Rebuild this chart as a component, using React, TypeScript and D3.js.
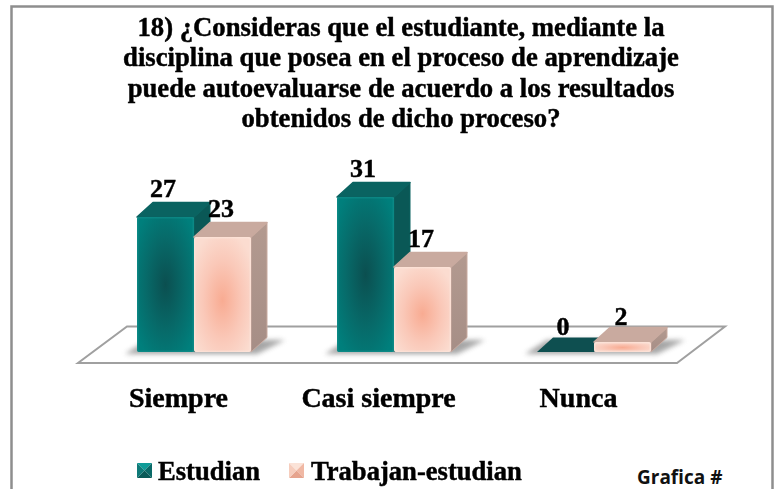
import React from "react";
import * as d3 from "d3";

const categories = ["Siempre", "Casi siempre", "Nunca"];
const seriesNames = ["Estudian", "Trabajan-estudian"];
const estudian = [27, 31, 0];
const trabajan = [23, 17, 2];
const titleLines = [
  "18) ¿Consideras que el estudiante, mediante la",
  "disciplina que posea en el proceso de aprendizaje",
  "puede autoevaluarse de acuerdo a los resultados",
  "obtenidos de dicho proceso?",
];

const SERIF = "'Liberation Serif', serif";
const x0 = d3.scaleBand<string>().domain(categories).range([94, 694]).padding(0);
const x1 = d3.scaleBand<string>().domain(seriesNames).range([43, 157]).padding(0);
const y = d3.scaleLinear().domain([0, 31]).range([352, 197]);
const DX = 16;
const DY = 14.5;
const heavy = { stroke: "#000", strokeWidth: 0.45, filter: "url(#soft)" };

const palette = [
  { fill: "url(#tealG)", top: "#0a6361", side: "#0a5856", zero: "#0e4f50", bevel: "#12908c" },
  { fill: "url(#pinkG)", top: "#c9aa9f", side: "url(#pinkSide)", zero: "#c9aa9f", bevel: "#fde6dc" },
];

function Bar({ x, w, v, s }: { x: number; w: number; v: number; s: number }) {
  const p = palette[s];
  const t = y(v);
  const b = y(0);
  const topPts = `${x},${t} ${x + w},${t} ${x + w + DX},${t - DY} ${x + DX},${t - DY}`;
  if (v === 0) return <polygon points={topPts} fill={p.zero} />;
  return (
    <g>
      <polygon points={`${x + w},${t} ${x + w + DX},${t - DY} ${x + w + DX},${b - DY} ${x + w},${b}`} fill={p.side} stroke={p.top} strokeWidth={1} strokeLinejoin="round" />
      <polygon points={topPts} fill={p.top} stroke={p.top} strokeWidth={1.5} strokeLinejoin="round" />
      <rect x={x} y={t} width={w} height={b - t} rx={2} fill={p.fill} />
      <rect x={x + 0.75} y={t + 0.75} width={w - 1.5} height={b - t - 1.5} rx={2} fill="none" stroke={p.bevel} strokeWidth={1.5} opacity={0.6} />
    </g>
  );
}

function Swatch({ x, yy, c }: { x: number; yy: number; c: string[] }) {
  const s = 15;
  const cx = x + s / 2;
  const cy = yy + s / 2;
  return (
    <g>
      <polygon points={`${x},${yy} ${x + s},${yy} ${cx},${cy}`} fill={c[0]} />
      <polygon points={`${x + s},${yy} ${x + s},${yy + s} ${cx},${cy}`} fill={c[1]} />
      <polygon points={`${x},${yy + s} ${x + s},${yy + s} ${cx},${cy}`} fill={c[2]} />
      <polygon points={`${x},${yy} ${x},${yy + s} ${cx},${cy}`} fill={c[3]} />
    </g>
  );
}

export default function App() {
  const b = y(0);
  const labelY = (v: number) => y(v) - (v < 5 ? 17.5 : 20);
  return (
    <svg width={776} height={489} style={{ position: "absolute", left: 0, top: 0, background: "#fff" }}>
      <defs>
        <radialGradient id="tealG" cx="0.5" cy="0.5" r="0.62">
          <stop offset="0" stopColor="#0b4f50" />
          <stop offset="0.55" stopColor="#076a69" />
          <stop offset="1" stopColor="#007f7c" />
        </radialGradient>
        <radialGradient id="pinkG" cx="0.5" cy="0.55" r="0.62">
          <stop offset="0" stopColor="#f8ab92" />
          <stop offset="0.55" stopColor="#fac8b8" />
          <stop offset="1" stopColor="#fbdcd0" />
        </radialGradient>
        <linearGradient id="pinkSide" x1="0" y1="0" x2="0" y2="1">
          <stop offset="0" stopColor="#b39a90" />
          <stop offset="1" stopColor="#a68e86" />
        </linearGradient>
        <filter id="blur" x="-20%" y="-50%" width="140%" height="200%">
          <feGaussianBlur stdDeviation="2.5" />
        </filter>
        <filter id="soft" x="-5%" y="-20%" width="110%" height="140%">
          <feGaussianBlur stdDeviation="0.35" />
        </filter>
      </defs>

      <path d="M11.5,489 L11.5,6.5 L772.5,6.5 L772.5,489" fill="none" stroke="#8e8e8e" strokeWidth={2.5} />

      {titleLines.map((l, i) => (
        <text key={i} x={401} y={35.5 + i * 30.5} textAnchor="middle" fontFamily={SERIF} fontWeight="bold" fontSize={26.7} fill="#000" {...heavy}>
          {l}
        </text>
      ))}

      <polygon points="78,363 677,363 725,326.5 127,326.5" fill="#fff" stroke="#a0a0a0" strokeWidth={2} />

      {categories.map((c) => {
        const sx = (x0(c) as number) + (x1(seriesNames[0]) as number);
        const w = x1.bandwidth() * 2;
        return (
          <polygon
            key={c}
            points={`${sx - 12},${b + 2} ${sx + w + 6},${b + 2} ${sx + w + 34},${b - 12} ${sx + 10},${b - 12}`}
            fill="#777"
            opacity={0.65}
            filter="url(#blur)"
          />
        );
      })}

      {categories.map((c, i) => {
        const bx = x0(c) as number;
        const w = x1.bandwidth();
        return (
          <g key={c}>
            <Bar x={bx + (x1(seriesNames[0]) as number)} w={w} v={estudian[i]} s={0} />
            <Bar x={bx + (x1(seriesNames[1]) as number)} w={w} v={trabajan[i]} s={1} />
          </g>
        );
      })}

      {categories.map((c, i) => {
        const bx = x0(c) as number;
        return (
          <g key={c} fontFamily={SERIF} fontWeight="bold" fill="#000" textAnchor="middle" {...heavy}>
            <text fontSize={26} x={bx + (x1(seriesNames[0]) as number) + 26} y={labelY(estudian[i])}>{estudian[i]}</text>
            <text fontSize={26} x={bx + (x1(seriesNames[1]) as number) + 27} y={labelY(trabajan[i])}>{trabajan[i]}</text>
            <text fontSize={28} x={bx + x0.bandwidth() / 2 - 15.5} y={407}>{c}</text>
          </g>
        );
      })}

      <Swatch x={137} yy={463} c={["#0f9c98", "#0a6a68", "#0a5a58", "#0e7a78"]} />
      <text x={158} y={480} fontFamily={SERIF} fontWeight="bold" fontSize={26.6} {...heavy}>{seriesNames[0]}</text>
      <Swatch x={289} yy={463} c={["#fbe3d8", "#f0b8a4", "#e6a48e", "#f6cdbd"]} />
      <text x={311} y={480} fontFamily={SERIF} fontWeight="bold" fontSize={26.6} {...heavy}>{seriesNames[1]}</text>
      <text x={637} y={484} fontFamily="'Open Sans', sans-serif" fontWeight="bold" fontSize={19} fill="#111">Grafica #</text>
    </svg>
  );
}
